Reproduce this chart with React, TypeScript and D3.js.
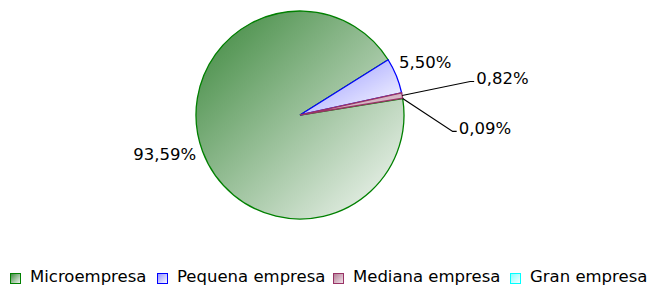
import React, { useMemo } from 'react';
import * as d3 from 'd3';

const categories = ['Microempresa', 'Pequena empresa', 'Mediana empresa', 'Gran empresa'];
const shares = [93.59, 5.5, 0.82, 0.09];
const labels = ['93,59%', '5,50%', '0,82%', '0,09%'];

const strokes = ['#008000', '#0000ff', '#993366', '#00ffff'];
const gradStops: [string, string][] = [
  ['#3a863a', '#f8faf8'],
  ['#9090ff', '#ffffff'],
  ['#b07a92', '#f4e6ec'],
  ['#80ffff', '#ffffff'],
];
// paint order so the thin purple slice sits on top
const drawOrder = [3, 0, 1, 2];

const W = 649;
const H = 285;
const cx = 300;
const cy = 115;
const R = 104;
const FONT = '"DejaVu Sans", Verdana, sans-serif';
const FS = 16.5;

export default function App() {
  const pie = useMemo(
    () =>
      d3
        .pie<number>()
        .sort(null)
        .value((d) => d)
        .startAngle((81 * Math.PI) / 180)
        .endAngle((81 * Math.PI) / 180 + 2 * Math.PI)(shares),
    []
  );

  const arc = d3.arc<d3.PieArcDatum<number>>().innerRadius(0).outerRadius(R);
  const edge = (a: number, r: number): [number, number] => [Math.sin(a) * r, -Math.cos(a) * r];
  const mid = (s: d3.PieArcDatum<number>) => (s.startAngle + s.endAngle) / 2;

  return (
    <svg width={W} height={H} style={{ position: 'absolute', left: 0, top: 0 }} fontFamily={FONT}>
      <defs>
        {gradStops.map((g, i) => (
          <linearGradient key={i} id={`g${i}`} x1="0" y1="0" x2="1" y2="1">
            <stop offset="0" stopColor={g[0]} />
            <stop offset="1" stopColor={g[1]} />
          </linearGradient>
        ))}
      </defs>
      <g transform={`translate(${cx},${cy})`}>
        {drawOrder.map((i) => (
          <path key={i} d={arc(pie[i]) || undefined} fill={`url(#g${i})`} stroke={strokes[i]} strokeWidth={1.3} />
        ))}
        {/* 93,59% */}
        {(() => {
          const [x, y] = edge(mid(pie[0]), R + 7);
          return (
            <text x={x} y={y} dy="0.35em" textAnchor="end" fontSize={FS} fill="#000">
              {labels[0]}
            </text>
          );
        })()}
        {/* 5,50% */}
        {(() => {
          const [x, y] = edge(pie[1].startAngle, R);
          return (
            <text x={x + 11} y={y + 2} dy="0.35em" textAnchor="start" fontSize={FS} fill="#000">
              {labels[1]}
            </text>
          );
        })()}
        {/* leader labels */}
        {[2, 3].map((i) => {
          const [x0, y0] = edge(mid(pie[i]), R);
          const ex = i === 2 ? x0 + 68 : x0 + 50;
          const ey = i === 2 ? y0 - 14 : y0 + 33;
          return (
            <g key={i}>
              <polyline points={`${x0},${y0} ${ex},${ey} ${ex + 4},${ey}`} fill="none" stroke="#000" strokeWidth={1.2} />
              <text x={ex + 6} y={ey - 3} dy="0.35em" fontSize={FS} fill="#000">
                {labels[i]}
              </text>
            </g>
          );
        })}
      </g>
      <g>
        {categories.map((c, i) => {
          const xs = [10, 157, 333, 510];
          return (
            <g key={c} transform={`translate(${xs[i]},273)`}>
              <rect x={0.5} y={0.5} width={10} height={10} fill={`url(#g${i})`} stroke={strokes[i]} strokeWidth={1} />
              <text x={20} y={9} fontSize={FS} fill="#000">
                {c}
              </text>
            </g>
          );
        })}
      </g>
    </svg>
  );
}
